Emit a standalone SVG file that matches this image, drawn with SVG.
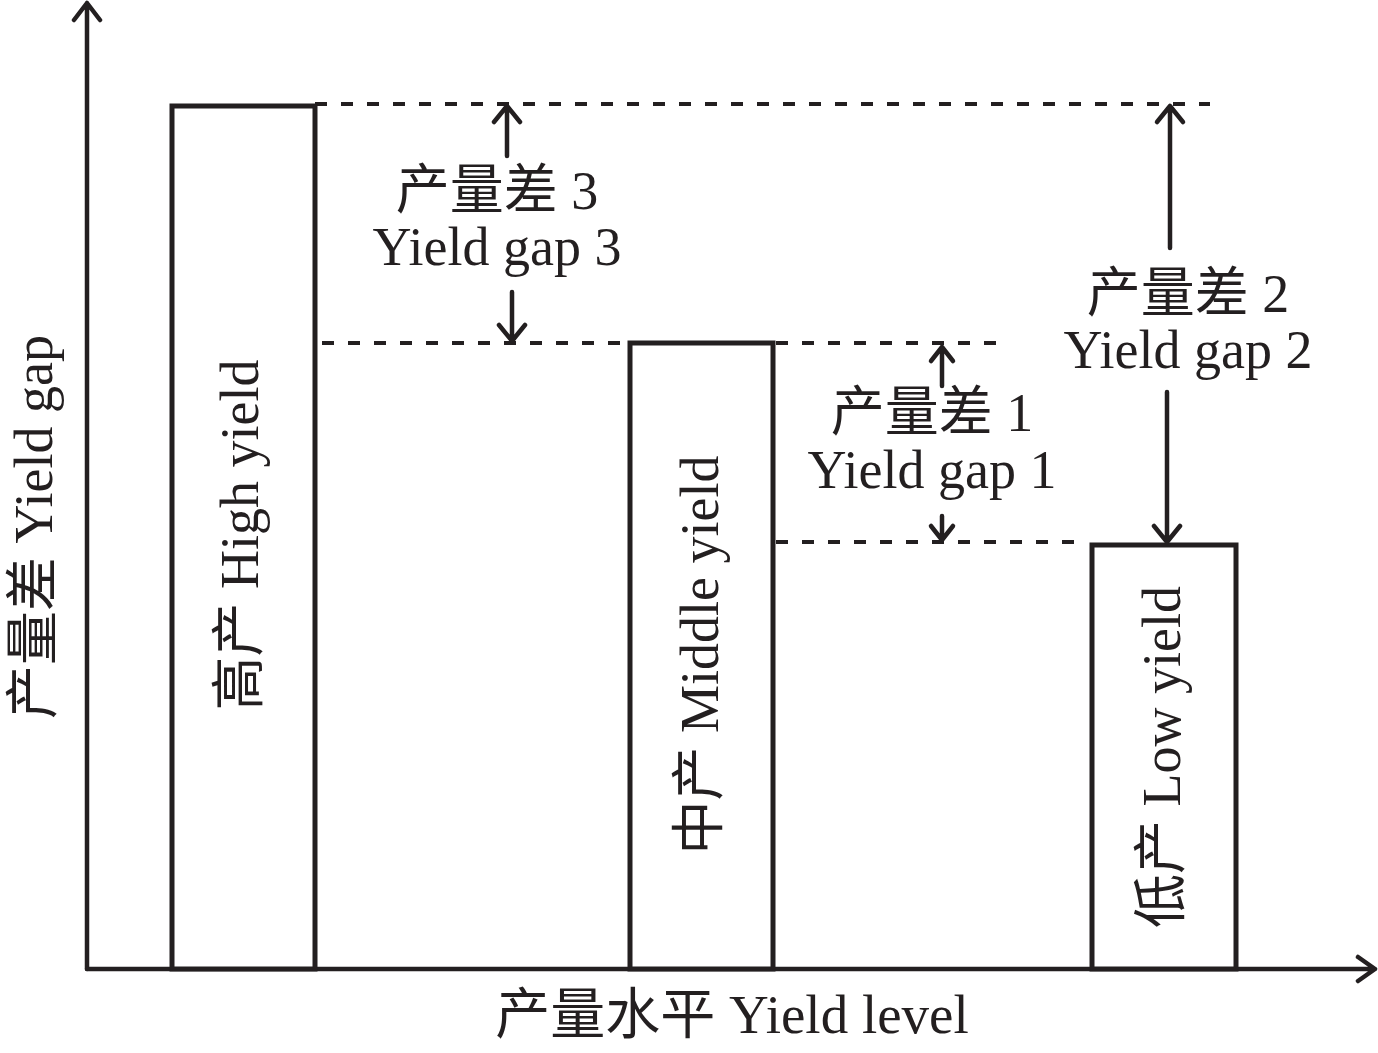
<svg xmlns="http://www.w3.org/2000/svg" width="1378" height="1053" viewBox="0 0 1378 1053">
<style>
.ax{stroke:#231f20;stroke-width:4.5;fill:none;stroke-linecap:round;stroke-linejoin:round}
.bar{stroke:#231f20;stroke-width:5;fill:#fff}
.dash{stroke:#231f20;stroke-width:4;stroke-dasharray:12 14;fill:none}
.ar{stroke:#231f20;stroke-width:4.5;fill:none;stroke-linecap:round;stroke-linejoin:round}
text{font-family:"Liberation Serif","Noto Sans CJK SC",serif;font-size:54px;fill:#231f20;text-anchor:middle}
</style>
<rect width="1378" height="1053" fill="#fff"/>
<g id="axes">
<path class="ax" d="M87,969 V3 M74,20 L87,3 L100,20"/>
<path class="ax" d="M87,969 H1375 M1358,957 L1375,969 L1358,981"/>
</g>
<g id="bar-high"><rect class="bar" x="172" y="106" width="143" height="863"/><text transform="translate(258,535) rotate(-90)">高产 High yield</text></g>
<g id="bar-middle"><rect class="bar" x="630" y="343" width="143" height="626"/><text transform="translate(718,655) rotate(-90)">中产 Middle yield</text></g>
<g id="bar-low"><rect class="bar" x="1092" y="545" width="144" height="424"/><text transform="translate(1180,757) rotate(-90)">低产 Low yield</text></g>
<g id="connectors">
<path class="dash" d="M315,104 H1210"/>
<path class="dash" d="M322,343 H630 M776,343 H1003"/>
<path class="dash" d="M776,542 H1085"/>
<path class="ar" d="M507,156 V106 M494,122 L507,106 L520,122"/>
<path class="ar" d="M512,292 V341 M499,325 L512,341 L525,325"/>
<path class="ar" d="M942,386 V347 M931,361 L942,347 L953,361"/>
<path class="ar" d="M942,516 V540 M931,526 L942,540 L953,526"/>
<path class="ar" d="M1170,248 V106 M1157,122 L1170,106 L1183,122"/>
<path class="ar" d="M1167,392 V542 M1154,526 L1167,542 L1180,526"/>
</g>
<g id="labels">
<text x="497" y="209">产量差 3</text>
<text x="497" y="265">Yield gap 3</text>
<text x="932" y="431">产量差 1</text>
<text x="932" y="488">Yield gap 1</text>
<text x="1188" y="312">产量差 2</text>
<text x="1188" y="368">Yield gap 2</text>
<text x="732" y="1033" style="font-size:55px">产量水平 Yield level</text>
<text transform="translate(52,527) rotate(-90)">产量差 Yield gap</text>
</g>
</svg>
